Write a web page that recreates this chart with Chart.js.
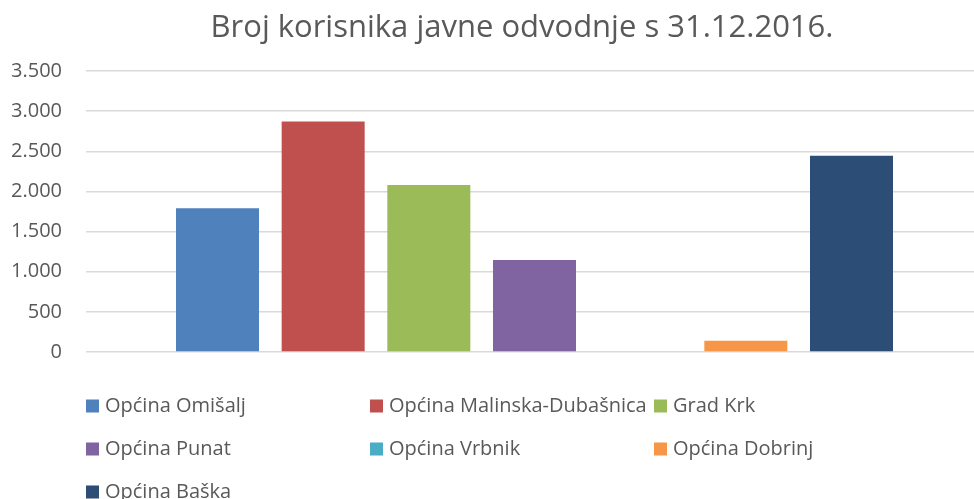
<!DOCTYPE html>
<html>
<head>
<meta charset="utf-8">
<script src="https://cdn.jsdelivr.net/npm/chart.js@4/dist/chart.umd.min.js"></script>
<style>
  html, body { margin: 0; padding: 0; background: #fff; overflow: hidden; }
  #wrap { width: 984px; height: 499px; }
</style>
</head>
<body>
<div id="wrap"><canvas id="c" width="984" height="499"></canvas></div>
<script>
const chartTitle = 'Broj korisnika javne odvodnje s 31.12.2016.';
const categories = ['31.12.2016.'];
const seriesNames = ['Općina Omišalj', 'Općina Malinska-Dubašnica', 'Grad Krk', 'Općina Punat', 'Općina Vrbnik', 'Općina Dobrinj', 'Općina Baška'];
const seriesValues = [1790, 2870, 2080, 1145, 0, 140, 2445];
const yTicks = [0, 500, 1000, 1500, 2000, 2500, 3000, 3500];

const seriesColors = ['#4F81BD', '#C0504D', '#9BBB59', '#8064A2', '#4BACC6', '#F79646', '#2C4D75'];
const FONT = '"Open Sans", "Noto Sans", sans-serif';
const TEXT = '#595959';

const fmt = v => String(v).replace(/\B(?=(\d{3})+(?!\d))/g, '.');

const titlePlugin = {
  id: 'xlTitle',
  afterDraw(chart) {
    const ctx = chart.ctx;
    ctx.save();
    ctx.font = '31px ' + FONT;
    ctx.fillStyle = TEXT;
    ctx.textAlign = 'center';
    ctx.textBaseline = 'middle';
    ctx.fillText(chartTitle, 522, 28);
    ctx.restore();
  }
};

const legendPlugin = {
  id: 'gridLegend',
  afterDraw(chart) {
    const ctx = chart.ctx;
    const area = chart.chartArea;
    const colX = [area.left, area.left + 284, area.left + 568];
    const rowY0 = area.bottom + 54, rowGap = 43;
    ctx.save();
    ctx.font = '20px ' + FONT;
    ctx.textBaseline = 'middle';
    ctx.textAlign = 'left';
    chart.data.datasets.forEach((ds, i) => {
      const x = colX[i % 3];
      const y = rowY0 + Math.floor(i / 3) * rowGap;
      ctx.fillStyle = ds.backgroundColor;
      ctx.fillRect(x, y - 6.5, 13, 13);
      ctx.fillStyle = TEXT;
      ctx.fillText(ds.label, x + 19, y);
    });
    ctx.restore();
  }
};

new Chart(document.getElementById('c'), {
  type: 'bar',
  data: {
    labels: categories,
    datasets: seriesNames.map((name, i) => ({
      label: name,
      data: [seriesValues[i]],
      backgroundColor: seriesColors[i],
      borderWidth: 0,
      categoryPercentage: 0.8246,
      barPercentage: 0.7855
    }))
  },
  options: {
    responsive: false,
    animation: false,
    layout: { padding: { top: 71, bottom: 147, left: 0, right: 1 } },
    plugins: { legend: { display: false }, title: { display: false }, tooltip: { enabled: false } },
    scales: {
      x: { display: false },
      y: {
        min: 0, max: 3500,
        afterBuildTicks(scale) { scale.ticks = yTicks.map(v => ({ value: v })); },
        afterFit(scale) { scale.width = 86; },
        border: { display: false },
        grid: { color: '#D9D9D9', lineWidth: 1.5, drawTicks: false },
        ticks: { color: TEXT, font: { family: FONT, size: 20 }, padding: 24, callback: v => fmt(v) }
      }
    }
  },
  plugins: [titlePlugin, legendPlugin]
});
</script>
</body>
</html>
